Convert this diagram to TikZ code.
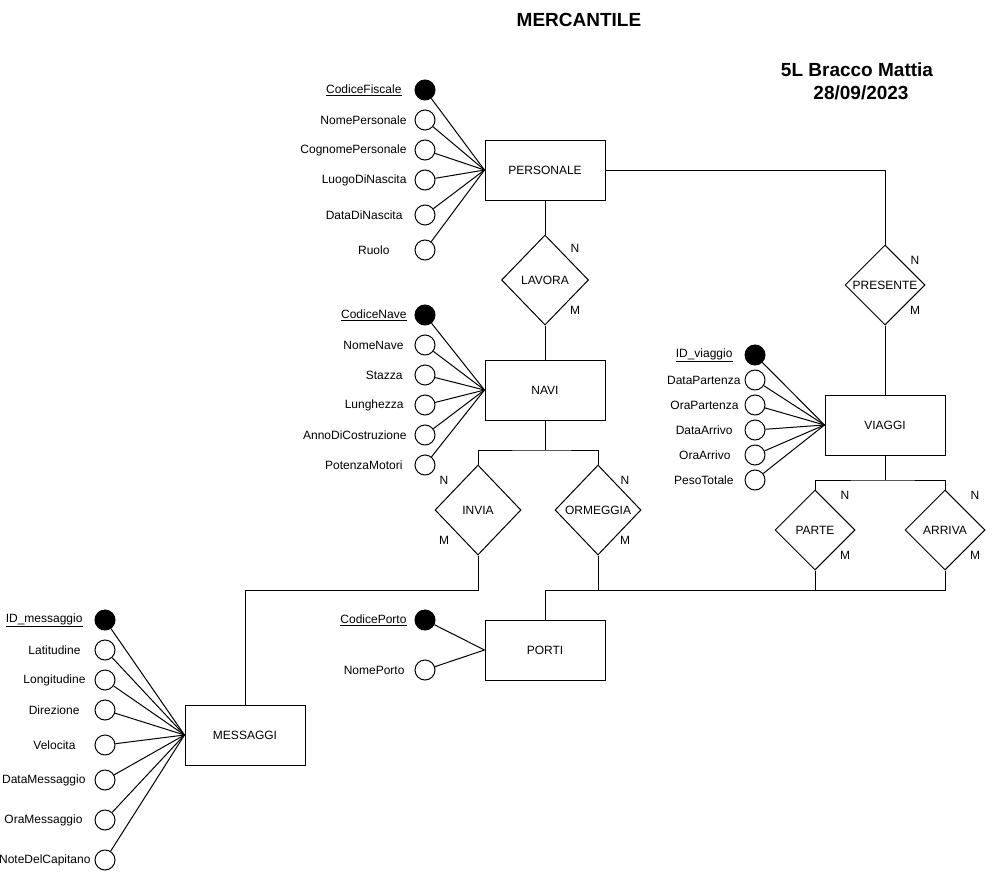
\documentclass[tikz,border=0pt]{standalone}
\usepackage{fontspec}
\setmainfont{Liberation Sans}
\usetikzlibrary{shapes.geometric}
\begin{document}
\begin{tikzpicture}[x=1pt,y=-1pt, line width=1pt,
 ent/.style={draw, minimum width=120pt, minimum height=60pt, inner sep=0pt, font=\fontsize{12}{14}\selectfont},
 rel/.style={draw, diamond, inner sep=0pt, font=\fontsize{12}{14}\selectfont},
 att/.style={draw, circle, minimum size=20pt, inner sep=0pt},
 katt/.style={att, fill=black},
 lbl/.style={anchor=east, inner sep=0pt, font=\fontsize{12}{14}\selectfont},
 card/.style={inner sep=0pt, font=\fontsize{12}{14}\selectfont},
 ttl/.style={inner sep=0pt, font=\bfseries\fontsize{19}{22}\selectfont},
]
\useasboundingbox (0,0) rectangle (1006,875);

% titles
\node[ttl] (title) at (579,20) {MERCANTILE};
\node[ttl] (author) at (857,70) {5L Bracco Mattia};
\node[ttl] (date) at (861,93) {28/09/2023};

% entities
\node[ent] (pers) at (545,170) {PERSONALE};
\node[ent] (navi) at (545,390) {NAVI};
\node[ent] (viaggi) at (885,425) {VIAGGI};
\node[ent] (porti) at (545,650) {PORTI};
\node[ent] (mess) at (245,735) {MESSAGGI};

% relationships
\node[rel, minimum width=87pt, minimum height=90pt] (lavora) at (545,280) {LAVORA};
\node[rel, minimum width=80pt, minimum height=80pt] (presente) at (885,285) {PRESENTE};
\node[rel, minimum width=86pt, minimum height=90pt] (invia) at (478,510) {INVIA};
\node[rel, minimum width=86pt, minimum height=90pt] (ormeggia) at (598,510) {ORMEGGIA};
\node[rel, minimum width=80pt, minimum height=80pt] (parte) at (815,530) {PARTE};
\node[rel, minimum width=80pt, minimum height=80pt] (arriva) at (945,530) {ARRIVA};

% cardinalities
\node[card] (lN) at (575,248) {N};
\node[card] (lM) at (575,310) {M};
\node[card] (pN) at (915,260) {N};
\node[card] (pM) at (915,310) {M};
\node[card] (iN) at (444,480) {N};
\node[card] (iM) at (444,540) {M};
\node[card] (oN) at (625,480) {N};
\node[card] (oM) at (625,540) {M};
\node[card] (paN) at (845,495) {N};
\node[card] (paM) at (845,555) {M};
\node[card] (aN) at (975,495) {N};
\node[card] (aM) at (975,555) {M};

% PERSONALE attributes
\node[katt] (pa1) at (425,90) {};
\node[att] (pa2) at (425,120) {};
\node[att] (pa3) at (425,150) {};
\node[att] (pa4) at (425,180) {};
\node[att] (pa5) at (425,215) {};
\node[att] (pa6) at (425,250) {};
\node[lbl] (pl1) at (402,90) {\underline{CodiceFiscale}};
\node[lbl] (pl2) at (407,120) {NomePersonale};
\node[lbl] (pl3) at (407,150) {CognomePersonale};
\node[lbl] (pl4) at (407,180) {LuogoDiNascita};
\node[lbl] (pl5) at (403,215) {DataDiNascita};
\node[lbl] (pl6) at (390,250) {Ruolo};
\foreach \i in {1,...,6} \draw (pa\i) -- (pers.west);

% NAVI attributes
\node[katt] (na1) at (425,315) {};
\node[att] (na2) at (425,345) {};
\node[att] (na3) at (425,375) {};
\node[att] (na4) at (425,405) {};
\node[att] (na5) at (425,435) {};
\node[att] (na6) at (425,465) {};
\node[lbl] (nl1) at (407,315) {\underline{CodiceNave}};
\node[lbl] (nl2) at (404,345) {NomeNave};
\node[lbl] (nl3) at (403,375) {Stazza};
\node[lbl] (nl4) at (404,405) {Lunghezza};
\node[lbl] (nl5) at (407,435) {AnnoDiCostruzione};
\node[lbl] (nl6) at (403,465) {PotenzaMotori};
\foreach \i in {1,...,6} \draw (na\i) -- (navi.west);

% VIAGGI attributes
\node[katt] (va1) at (755,355) {};
\node[att] (va2) at (755,380) {};
\node[att] (va3) at (755,405) {};
\node[att] (va4) at (755,430) {};
\node[att] (va5) at (755,455) {};
\node[att] (va6) at (755,480) {};
\node[lbl] (vl1) at (733,355) {\underline{ID\_viaggio}};
\node[lbl] (vl2) at (741,380) {DataPartenza};
\node[lbl] (vl3) at (739,405) {OraPartenza};
\node[lbl] (vl4) at (733,430) {DataArrivo};
\node[lbl] (vl5) at (731,455) {OraArrivo};
\node[lbl] (vl6) at (734,480) {PesoTotale};
\foreach \i in {1,...,6} \draw (va\i) -- (viaggi.west);

% PORTI attributes
\node[katt] (oa1) at (425,620) {};
\node[att] (oa2) at (425,670) {};
\node[lbl] (ol1) at (407,620) {\underline{CodicePorto}};
\node[lbl] (ol2) at (405,670) {NomePorto};
\foreach \i in {1,2} \draw (oa\i) -- (porti.west);

% MESSAGGI attributes
\node[katt] (ma1) at (105,620) {};
\node[att] (ma2) at (105,650) {};
\node[att] (ma3) at (105,680) {};
\node[att] (ma4) at (105,710) {};
\node[att] (ma5) at (105,745) {};
\node[att] (ma6) at (105,780) {};
\node[att] (ma7) at (105,820) {};
\node[att] (ma8) at (105,860) {};
\node[lbl] (ml1) at (83,620) {\underline{ID\_messaggio}};
\node[lbl] (ml2) at (81,650) {Latitudine};
\node[lbl] (ml3) at (86,680) {Longitudine};
\node[lbl] (ml4) at (80,710) {Direzione};
\node[lbl] (ml5) at (76,745) {Velocita};
\node[lbl] (ml6) at (86,780) {DataMessaggio};
\node[lbl] (ml7) at (83,820) {OraMessaggio};
\node[lbl] (ml8) at (91,860) {NoteDelCapitano};
\foreach \i in {1,...,8} \draw (ma\i) -- (mess.west);

% junctions
\coordinate (jn) at (545,450);
\coordinate (jv) at (885,480);
\coordinate (bus) at (545,590);

% relationship connectors
\draw (pers.south) -- (lavora.north);
\draw (lavora.south) -- (navi.north);
\draw (pers.east) -| (presente.north);
\draw (presente.south) -- (viaggi.north);
\draw (navi.south) -- (jn);
\draw (invia.north) |- (jn) -| (ormeggia.north);
\draw (viaggi.south) -- (jv);
\draw (parte.north) |- (jv) -| (arriva.north);
\draw (porti.north) -- (bus);
\draw (ormeggia.south) |- (bus);
\draw (parte.south) |- (bus);
\draw (arriva.south) |- (bus);
\draw (invia.south) -- (invia.south |- bus) -| (mess.north);
\end{tikzpicture}
\end{document}
